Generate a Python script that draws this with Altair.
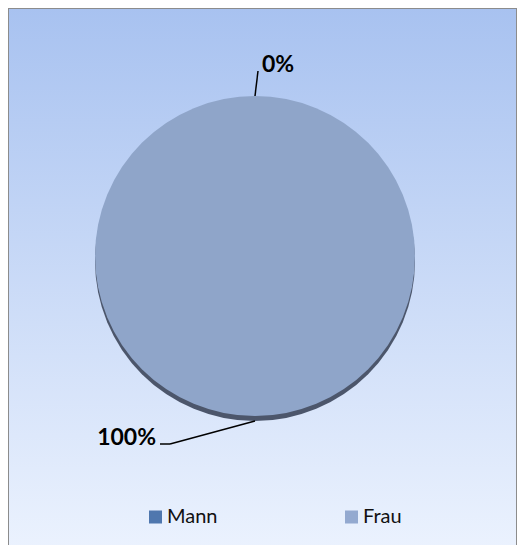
import math
import altair as alt
import pandas as pd

# ---- data ----
categories = ["Mann", "Frau"]
values = [0, 100]

# ---- style ----
slice_colors = ["#4F77AE", "#8FA5C9"]
legend_colors = ["#4F77AE", "#93A9D0"]
rim_color = "#4C566B"
W, H = 509, 537
CX, CY, R = 247, 248, 160
RIM = 5
# per-slice leader styling: (dx, dy, horizontal tail)
leader = {"Mann": (3, -25, 0), "Frau": (-85, 23, -10)}
GAP = 4

total = sum(values)
df = pd.DataFrame({"cat": categories, "value": values, "idx": range(len(categories))})

seg_rows, lab_rows = [], []
cum = 0
for c, v in zip(categories, values):
    mid = (cum + v / 2) / total * 2 * math.pi
    cum += v
    ex = CX + R * math.sin(mid)
    ey = CY - R * math.cos(mid) + RIM * max(0.0, -math.cos(mid))
    dx, dy, tail = leader[c]
    bx, by = ex + dx, ey + dy
    tx = bx + tail
    seg_rows.append({"x": ex, "y": ey, "x2": bx, "y2": by})
    if tail:
        seg_rows.append({"x": bx, "y": by, "x2": tx, "y2": by})
    right = tail < 0
    lab_rows.append({
        "label": f"{round(v / total * 100)}%",
        "x": tx - GAP if right else tx + GAP,
        "y": by + 1,
        "side": "right" if right else "left",
    })
seg = pd.DataFrame(seg_rows)
lab = pd.DataFrame(lab_rows)

grad = alt.LinearGradient(
    gradient="linear", x1=0, y1=0, x2=0, y2=1,
    stops=[alt.GradientStop(offset=0, color="#A8C2F0"),
           alt.GradientStop(offset=1, color="#EBF2FE")],
)

bg = alt.Chart(pd.DataFrame({"a": [0]})).mark_rect(
    fill=grad, stroke="#8C8C8C", strokeWidth=2
).encode(x=alt.value(0), x2=alt.value(W), y=alt.value(0), y2=alt.value(H + 4))

rim = alt.Chart(df).mark_arc(radius=R, fill=rim_color).encode(
    theta=alt.Theta("value:Q", stack=True),
    order=alt.Order("idx:Q"),
    x=alt.value(CX), y=alt.value(CY + RIM),
)

face = alt.Chart(df).mark_arc(radius=R).encode(
    theta=alt.Theta("value:Q", stack=True),
    order=alt.Order("idx:Q"),
    color=alt.Color("cat:N", scale=alt.Scale(domain=categories, range=slice_colors), legend=None),
    x=alt.value(CX), y=alt.value(CY),
)

lines = alt.Chart(seg).mark_rule(color="black", strokeWidth=1.5).encode(
    x=alt.X("x:Q", scale=None), y=alt.Y("y:Q", scale=None), x2="x2:Q", y2="y2:Q"
)

def label_layer(side):
    return alt.Chart(lab).transform_filter(alt.datum.side == side).mark_text(
        font="Lato", fontSize=23, fontWeight="bold", color="black",
        align=side, baseline="alphabetic",
    ).encode(x=alt.X("x:Q", scale=None), y=alt.Y("y:Q", scale=None), text="label:N")

leg_x = alt.X("cat:N", scale=alt.Scale(type="point", domain=categories, range=[147.5, 343.5], padding=0), axis=None)
leg_sq = alt.Chart(df).mark_square(size=169, opacity=1).encode(
    x=leg_x, y=alt.value(509),
    color=alt.Color("cat:N", scale=alt.Scale(domain=categories, range=legend_colors), legend=None),
)
leg_tx = alt.Chart(df).mark_text(
    font="Lato", fontSize=20, color="#111111", align="left", baseline="alphabetic", dx=11.5
).encode(x=leg_x, y=alt.value(515), text="cat:N")

chart = alt.layer(
    bg, rim, face, lines, label_layer("left"), label_layer("right"), leg_sq, leg_tx
).resolve_scale(x="independent", y="independent", color="independent").properties(
    width=W, height=H, padding=0, autosize=alt.AutoSizeParams(type="none")
).configure_view(stroke=None)

chart.save("out.html", embed_options={"renderer": "svg", "actions": False})
